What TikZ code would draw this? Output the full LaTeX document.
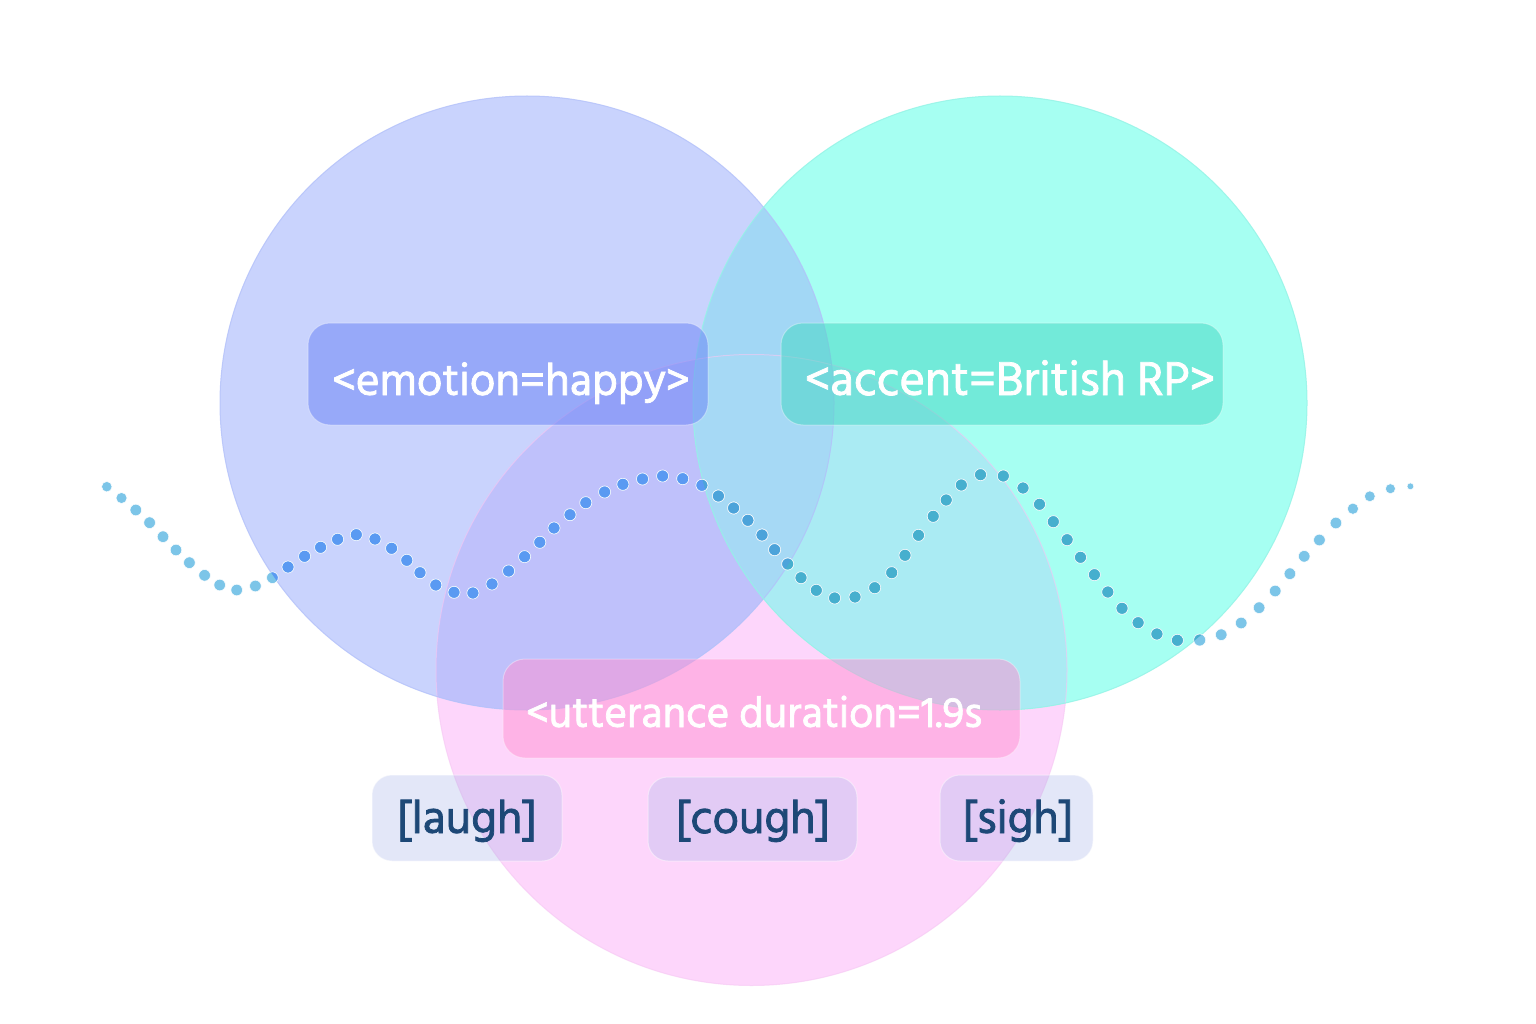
\documentclass[tikz,border=0pt]{standalone}
\usepackage{fontspec}
\setmainfont{Hind Siliguri}
\newfontfamily\tagfont{Hind Siliguri}[FakeBold=1.6]
\definecolor{cB}{HTML}{C9D3FD}
\definecolor{cC}{HTML}{A6FFF2}
\definecolor{cP}{HTML}{FDD6FB}
\definecolor{cBP}{HTML}{BFC1FB}
\definecolor{cBC}{HTML}{A2D7F5}
\definecolor{cCP}{HTML}{AAEBF3}
\definecolor{cBCP}{HTML}{A6D9F5}
\definecolor{eB}{HTML}{B3C1FA}
\definecolor{eC}{HTML}{93F3E6}
\definecolor{eP}{HTML}{F6C6F3}
\definecolor{emoC}{HTML}{6781F6}
\definecolor{accC}{HTML}{40D7C2}
\definecolor{uttC}{HTML}{FF91D2}
\definecolor{smC}{HTML}{A5B2E8}
\definecolor{navy}{HTML}{1D4877}
\definecolor{dotOut}{HTML}{7CC5E8}
\definecolor{dotB}{HTML}{5A9AF2}
\definecolor{dotC}{HTML}{46AFCE}
\definecolor{dotBC}{HTML}{4CA3DA}
\begin{document}
\begin{tikzpicture}[x=1pt,y=-1pt,
  tagbox/.style={draw=white, draw opacity=0.35, line width=1pt, rounded corners=22pt, inner sep=0pt, fill opacity=0.5},
  smbox/.style={draw=white, draw opacity=0.45, line width=1pt, rounded corners=20pt, inner sep=0pt, fill=smC, fill opacity=0.3},
  biglbl/.style={text=white, inner sep=0pt, anchor=base},
  snd/.style={text=navy, font=\tagfont\fontsize{47}{56}\selectfont, inner sep=0pt, anchor=base},
  dotpath/.style={draw=white, line width=0.5pt}
]
\useasboundingbox (0,0) rectangle (1536,1024);
\fill[white] (0,0) rectangle (1536,1024);
\def\cBlue{(527,403) circle[radius=307]}
\def\cCyan{(1000,403) circle[radius=307]}
\def\cPink{(751.5,670) circle[radius=315.5]}
% circles with region colours
\fill[cP] \cPink;
\fill[cB] \cBlue;
\fill[cC] \cCyan;
\begin{scope}\clip \cBlue; \fill[cBP] \cPink; \fill[cBC] \cCyan; \end{scope}
\begin{scope}\clip \cCyan; \fill[cCP] \cPink; \end{scope}
\begin{scope}\clip \cBlue; \clip \cCyan; \fill[cBCP] \cPink; \end{scope}
\draw[eP, line width=1pt, opacity=0.6] \cPink;
\draw[eB, line width=1pt, opacity=0.8] \cBlue;
\draw[eC, line width=1pt, opacity=0.8] \cCyan;
% dotted wave
\def\wavepts{106.8/486.7/5.2,121.5/498/5.5,135.8/510/5.8,149.6/522.7/5.8,163/536.7/5.8,176/550/5.8,189.4/562.7/5.8,204.6/575.3/5.8,219.7/585/5.8,236.7/590/5.8,255.4/586/5.8,272.4/577.7/5.8,288/567/6,304.6/556.3/6,320.6/547.3/6,337.6/539.3/6,356.3/534.7/6,375/539/6,391.6/548.3/6,406.8/560.3/6,420/572.7/6,435.8/585/6,454/592.3/6,472.9/593/6,492/584/6,508.6/571/6,524.6/556.7/6,539.8/542.3/6,554/528/6,570/514.7/6,585.8/502.7/6,604.6/492/6,622.9/484.3/6,642.5/479/6,662.6/476/6,682.7/478.7/6,701.9/485.3/6,718.4/496/6,733.6/508/6,747.9/520.3/6,762/535/6,774.6/549.7/6,787.7/564/6,801/577.7/6,816.3/590.3/6,834.6/598/6,855/597/6,874.7/587.7/6,891.7/572.7/6,905/555.3/6,918.5/535.3/6,933.2/516.3/6,946.2/500/6,961.3/485/6,980.5/474.7/6,1003.3/476/6,1023/488/6,1039.5/504.3/6,1053.3/521.7/6,1067.1/539.7/6,1080.5/557.3/6,1094.4/574.7/6,1107.8/592/6,1122/608.3/6,1138.1/622.7/6,1156.9/634/6,1177.4/640.3/6,1199.7/640/6,1221.2/634.7/5.8,1241.2/623/5.8,1259.1/607.7/5.8,1275.2/591/5.8,1289.9/573.7/5.8,1304.2/556.3/5.8,1319.4/540/5.8,1335.9/523/5.8,1352.9/508.7/5.6,1369.8/496.3/5.4,1390.4/488.7/5,1410.4/486.3/3.4}
\foreach \px/\py/\pr in \wavepts {\filldraw[dotpath, fill=dotOut] (\px,\py) circle[radius=\pr];}
\begin{scope}\clip \cBlue;
\foreach \px/\py/\pr in \wavepts {\filldraw[dotpath, fill=dotB] (\px,\py) circle[radius=\pr];}
\end{scope}
\begin{scope}\clip \cCyan;
\foreach \px/\py/\pr in \wavepts {\filldraw[dotpath, fill=dotC] (\px,\py) circle[radius=\pr];}
\end{scope}
\begin{scope}\clip \cBlue; \clip \cCyan;
\foreach \px/\py/\pr in \wavepts {\filldraw[dotpath, fill=dotBC] (\px,\py) circle[radius=\pr];}
\end{scope}
% tag boxes
\node[tagbox, fill=emoC, minimum width=400pt, minimum height=102pt] (emobox) at (508,374) {};
\node[tagbox, fill=accC, minimum width=442pt, minimum height=102pt] (accbox) at (1002,374) {};
\node[tagbox, fill=uttC, minimum width=517pt, minimum height=99pt] (uttbox) at (761.5,708.5) {};
\node[smbox, minimum width=190pt, minimum height=86pt] (laughbox) at (467,818) {};
\node[smbox, minimum width=209pt, minimum height=84pt] (coughbox) at (752.5,819) {};
\node[smbox, minimum width=153pt, minimum height=86pt] (sighbox) at (1016.5,818) {};
% labels
\node[biglbl, font=\tagfont\fontsize{45.5}{54}\selectfont] (emotxt) at (511,395) {<emotion=happy>};
\node[biglbl, font=\tagfont\fontsize{48.5}{56}\selectfont] (acctxt) at (1010,395) {<accent=British RP>};
\node[biglbl, font=\tagfont\fontsize{43.5}{52}\selectfont] (utttxt) at (754,727) {<utterance duration=1.9s};
\node[snd] (laughtxt) at (467,833) {[laugh]};
\node[snd] (coughtxt) at (753,833) {[cough]};
\node[snd] (sightxt) at (1018,833) {[sigh]};
\end{tikzpicture}
\end{document}
